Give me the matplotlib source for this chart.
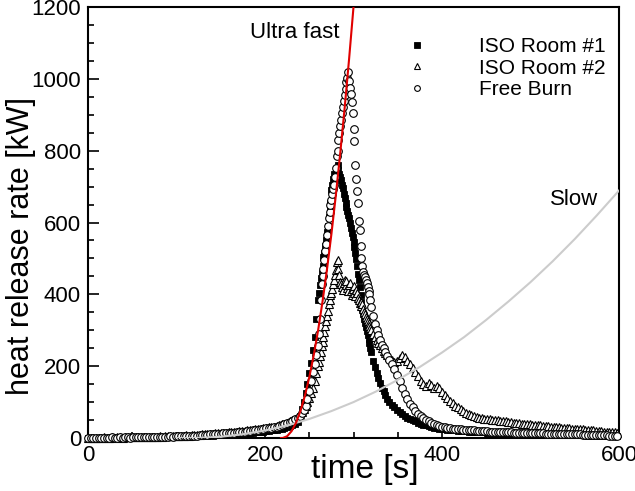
import numpy as np
import matplotlib
matplotlib.use('Agg')
import matplotlib.pyplot as plt
from matplotlib.ticker import MultipleLocator

plt.rcParams['font.family'] = ['Liberation Sans', 'DejaVu Sans']

# sample times (s): finer through the peak
t_early = np.arange(0, 240, 3)
t_rise = np.arange(240, 260, 2)
t_peak = np.arange(260, 321, 1)
t_fall = np.arange(322, 340, 2)
t_late = np.arange(340, 600, 3)
time_s = np.concatenate([t_early, t_rise, t_peak, t_fall, t_late])

# heat release rate [kW]
iso1_early = [0, 1, 0, 0, 1, 0, 1, 1, 0, 1,
              1, 1, 0, 1, 2, 1, 1, 2, 1, 2,
              2, 1, 2, 2, 3, 2, 3, 2, 3, 3,
              3, 4, 3, 4, 4, 5, 4, 5, 5, 6,
              6, 5, 6, 7, 6, 7, 8, 7, 8, 9,
              9, 10, 9, 11, 10, 12, 11, 12, 13, 13,
              14, 15, 15, 16, 17, 17, 18, 19, 20, 21,
              22, 23, 25, 26, 28, 30, 33, 36, 40, 45]
iso1_rise = [62, 80, 100, 125, 150, 180, 210, 245, 280, 330]
iso1_peak = [385, 405, 425, 445, 460, 480, 505, 515, 535, 550,
             575, 590, 615, 640, 655, 690, 705, 720, 735, 725,
             748, 740, 760, 745, 735, 728, 718, 705, 695, 680,
             668, 655, 642, 632, 620, 612, 598, 585, 572, 560,
             545, 532, 515, 498, 478, 458, 440, 420, 398, 378,
             360, 345, 332, 320, 310, 298, 288, 276, 265, 252, 240]
iso1_fall = [215, 198, 182, 166, 152, 140, 130, 120, 110]
iso1_late = [100, 92, 85, 78, 72, 66, 61, 57, 53, 49,
             46, 43, 40, 37, 35, 33, 31, 29, 27, 26,
             25, 24, 23, 22, 22, 21, 20, 20, 19, 19,
             18, 18, 17, 17, 16, 17, 16, 15, 16, 15,
             15, 14, 15, 14, 14, 13, 14, 13, 13, 12,
             13, 12, 12, 11, 12, 11, 11, 11, 10, 11,
             10, 10, 10, 9, 10, 9, 9, 9, 9, 8,
             9, 8, 8, 8, 8, 7, 8, 7, 7, 7,
             7, 7, 6, 7, 6, 6, 6]

iso2_early = [1, 0, 1, 1, 0, 1, 2, 1, 1, 2,
              1, 2, 2, 1, 2, 3, 2, 2, 3, 3,
              3, 2, 3, 4, 3, 4, 4, 5, 4, 5,
              5, 6, 5, 6, 7, 6, 7, 8, 7, 8,
              9, 8, 9, 10, 10, 11, 11, 12, 13, 13,
              14, 14, 15, 16, 16, 17, 18, 19, 19, 20,
              21, 22, 23, 24, 25, 26, 27, 28, 30, 31,
              32, 34, 36, 38, 40, 43, 46, 50, 54, 58]
iso2_rise = [65, 72, 80, 90, 100, 112, 125, 140, 160, 180]
iso2_peak = [200, 212, 228, 240, 255, 268, 282, 295, 312, 325,
             340, 355, 372, 385, 398, 405, 415, 428, 440, 455,
             468, 490, 497, 470, 455, 435, 428, 420, 412, 432,
             440, 425, 436, 418, 408, 425, 432, 410, 398, 415,
             422, 405, 395, 412, 405, 390, 385, 375, 368, 380,
             372, 360, 352, 345, 338, 332, 325, 320, 312, 305, 300]
iso2_fall = [290, 282, 272, 265, 258, 250, 243, 236, 230]
iso2_late = [225, 218, 212, 215, 222, 230, 226, 215, 205, 195,
             185, 172, 160, 150, 145, 152, 148, 140, 146, 138,
             128, 120, 112, 104, 97, 90, 85, 80, 75, 70,
             66, 63, 60, 58, 56, 55, 54, 53, 52, 51,
             50, 49, 48, 47, 46, 45, 44, 43, 42, 41,
             40, 40, 39, 38, 37, 37, 36, 35, 34, 33,
             33, 32, 31, 31, 30, 29, 29, 28, 27, 26,
             26, 25, 24, 24, 23, 22, 22, 21, 20, 20,
             19, 18, 18, 17, 16, 16, 15]

free_early = [0, 1, 0, 1, 1, 0, 1, 1, 1, 2,
              1, 1, 2, 1, 2, 2, 1, 2, 2, 3,
              2, 3, 3, 2, 3, 3, 4, 3, 4, 4,
              4, 5, 4, 5, 5, 6, 6, 5, 6, 7,
              7, 7, 8, 8, 9, 9, 10, 10, 11, 12,
              12, 13, 13, 14, 15, 15, 16, 17, 18, 18,
              19, 20, 21, 22, 23, 24, 25, 27, 28, 29,
              31, 32, 34, 36, 38, 41, 44, 48, 52, 56]
free_rise = [62, 70, 78, 90, 110, 130, 160, 185, 205, 230]
free_peak = [255, 290, 330, 385, 430, 450, 470, 495, 520, 540,
             565, 590, 612, 630, 650, 662, 680, 692, 705, 728,
             752, 785, 800, 830, 848, 870, 885, 905, 922, 938,
             955, 972, 990, 1002, 1018, 995, 975, 958, 935, 905,
             860, 828, 760, 722, 688, 655, 605, 580, 535, 500,
             478, 462, 455, 448, 440, 432, 420, 410, 400, 385, 365]
free_fall = [340, 318, 300, 288, 272, 260, 250, 240, 228]
free_late = [218, 205, 192, 175, 158, 140, 122, 108, 95, 85,
             76, 68, 62, 56, 50, 46, 42, 39, 36, 33,
             31, 30, 28, 27, 26, 25, 24, 24, 23, 22,
             22, 21, 21, 20, 20, 19, 19, 19, 18, 18,
             18, 17, 17, 17, 16, 16, 16, 15, 15, 15,
             15, 14, 14, 14, 14, 13, 13, 13, 13, 12,
             12, 12, 12, 11, 11, 11, 11, 11, 10, 10,
             10, 10, 10, 9, 9, 9, 9, 9, 8, 8,
             8, 8, 8, 7, 7, 7, 7]

iso1 = iso1_early + iso1_rise + iso1_peak + iso1_fall + iso1_late
iso2 = iso2_early + iso2_rise + iso2_peak + iso2_fall + iso2_late
free = free_early + free_rise + free_peak + free_fall + free_late

# design fire curves
ultra_t = [218, 220, 225, 230, 235, 240, 245, 250, 255, 260, 265, 270, 275,
           280, 285, 290, 295, 300, 302]
ultra_q = [0, 0, 5, 19, 42, 75, 117, 169, 230, 300, 380, 469, 567,
           675, 793, 919, 1055, 1200, 1261]
slow_t = [100, 125, 150, 175, 200, 225, 250, 275, 300, 325, 350, 375, 400,
          425, 450, 475, 500, 525, 550, 575, 600]
slow_q = [0, 0.3, 3.6, 10.5, 21, 35, 53, 75, 100, 129, 162, 198, 238,
          281, 329, 380, 434, 492, 554, 620, 689]

fig = plt.figure(figsize=(6.35, 4.91), dpi=100)
ax = fig.add_axes([0.1386, 0.1079, 0.8362, 0.8778])

ax.plot(time_s, iso1, 's', ms=5, color='black', mec='black', mew=0.6,
        label='ISO Room #1', clip_on=False, zorder=3)
ax.plot(time_s, iso2, '^', ms=5.5, color='black', mfc='white', mew=0.8,
        label='ISO Room #2', clip_on=False, zorder=3)
ax.plot(time_s, free, 'o', ms=5.5, color='black', mfc='white', mew=0.8,
        label='Free Burn', clip_on=False, zorder=3)

ax.plot(slow_t, slow_q, color='#cccccc', lw=1.5, zorder=4)
ax.plot(ultra_t, ultra_q, color='#e00000', lw=1.5, zorder=4)

ax.text(284, 1130, 'Ultra fast', fontsize=16, ha='right', va='center')
ax.text(577, 663, 'Slow', fontsize=16, ha='right', va='center')

ax.set_xlim(0, 600)
ax.set_ylim(0, 1200)
ax.xaxis.set_major_locator(MultipleLocator(200))
ax.xaxis.set_minor_locator(MultipleLocator(50))
ax.yaxis.set_major_locator(MultipleLocator(200))
ax.yaxis.set_minor_locator(MultipleLocator(50))
ax.tick_params(which='both', direction='in', top=False, right=False, width=1.2,
               labelsize=16)
ax.tick_params(which='major', length=8, pad=5)
ax.tick_params(which='minor', length=4)
for s in ax.spines.values():
    s.set_linewidth(1.5)

ax.set_xlabel('time [s]', fontsize=24)
ax.set_ylabel('heat release rate [kW]', fontsize=22)
ax.xaxis.set_label_coords(0.522, -0.037)
ax.yaxis.set_label_coords(-0.098, 0.445)

ax.legend(loc='upper right', bbox_to_anchor=(0.975, 0.93), frameon=False,
          fontsize=15, markerscale=0.75, handletextpad=2.0, labelspacing=0.12,
          borderaxespad=0, borderpad=0)

fig.savefig('out.png', dpi=100)
